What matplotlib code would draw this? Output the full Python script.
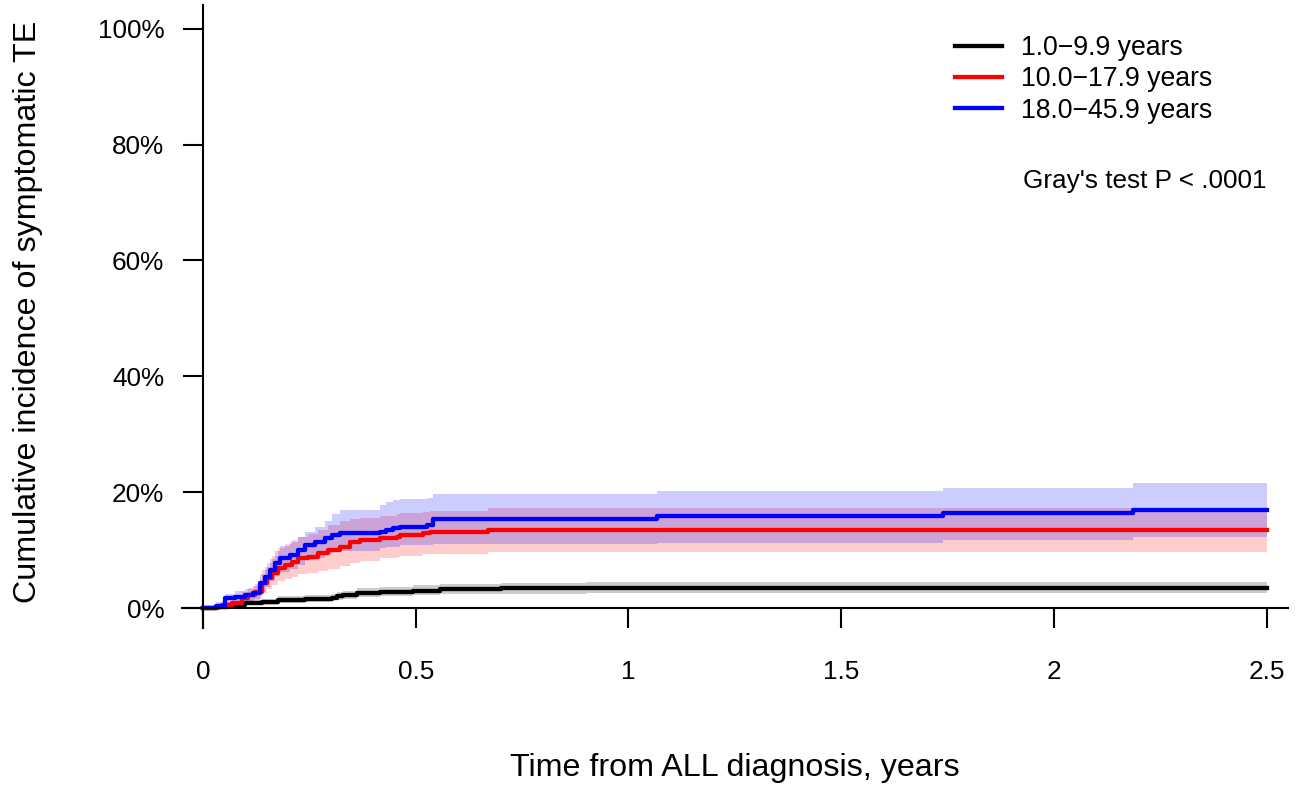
import matplotlib
matplotlib.use('Agg')
import matplotlib.pyplot as plt

plt.rcParams['font.family'] = ['Liberation Sans', 'DejaVu Sans']

# cumulative incidence (%) by age group
labels = ['1.0\u22129.9 years', '10.0\u221217.9 years', '18.0\u221245.9 years']
colors = ['black', 'red', 'blue']

t_young = [0, 0.03, 0.059, 0.099, 0.139, 0.176, 0.240, 0.303, 0.315, 0.329, 0.362,
           0.416, 0.494, 0.557, 0.627, 0.70, 0.90, 2.5]
ci_young = [0, 0.2, 0.5, 0.9, 1.0, 1.4, 1.6, 1.8, 2.0, 2.2, 2.6, 2.8, 3.0, 3.2, 3.3,
            3.4, 3.5, 3.5]
lo_young = [0, 0.05, 0.25, 0.55, 0.6, 0.9, 1.1, 1.3, 1.4, 1.6, 1.9, 2.1, 2.3, 2.4,
            2.5, 2.5, 2.6, 2.6]
hi_young = [0, 0.4, 0.8, 1.3, 1.5, 2.0, 2.2, 2.5, 2.7, 3.0, 3.4, 3.6, 3.9, 4.1, 4.2,
            4.4, 4.5, 4.5]

t_teen = [0, 0.035, 0.045, 0.068, 0.092, 0.106, 0.122, 0.139, 0.150, 0.162, 0.176,
          0.193, 0.209, 0.223, 0.247, 0.270, 0.294, 0.322, 0.345, 0.369, 0.416,
          0.456, 0.463, 0.517, 0.533, 0.67, 2.5]
ci_teen = [0, 0.2, 0.5, 0.9, 1.7, 2.2, 2.8, 4.3, 5.2, 6.0, 6.9, 7.4, 8.0, 8.6, 8.8,
           9.5, 10.0, 10.6, 11.4, 11.7, 12.1, 12.3, 12.6, 12.9, 13.1, 13.4, 13.4]
lo_teen = [0, 0, 0.1, 0.3, 0.8, 1.1, 1.5, 2.6, 3.3, 3.9, 4.6, 5.0, 5.4, 5.8, 6.0,
           6.4, 6.7, 7.2, 7.8, 8.1, 8.6, 8.8, 9.0, 9.3, 9.4, 9.6, 9.6]
hi_teen = [0, 0.6, 1.1, 1.7, 2.8, 3.4, 4.1, 6.6, 7.8, 9.0, 10.3, 11.0, 11.8, 12.3,
           12.8, 13.5, 14.3, 15.0, 15.4, 15.6, 15.8, 16.2, 16.4, 16.6, 16.8, 17.2, 17.2]

t_adult = [0, 0.03, 0.052, 0.075, 0.099, 0.117, 0.134, 0.146, 0.157, 0.169, 0.181,
           0.204, 0.223, 0.240, 0.263, 0.287, 0.303, 0.322, 0.416, 0.430, 0.446,
           0.463, 0.526, 0.541, 1.068, 1.740, 2.185, 2.5]
ci_adult = [0, 0.4, 1.7, 1.9, 2.2, 2.6, 4.3, 5.4, 6.6, 7.8, 8.6, 9.2, 10.0, 10.9,
            11.4, 12.1, 12.6, 12.9, 13.1, 13.5, 13.8, 14.0, 14.3, 15.3, 15.9, 16.4,
            17.0, 17.0]
lo_adult = [0, 0.1, 0.7, 0.9, 1.1, 1.4, 2.8, 3.7, 4.6, 5.6, 6.3, 6.8, 7.5, 8.3, 8.7,
            9.3, 9.6, 9.9, 10.3, 10.5, 10.6, 10.8, 10.9, 11.0, 11.3, 11.7, 12.2, 12.2]
hi_adult = [0, 1.0, 2.5, 2.9, 3.3, 3.8, 5.8, 7.0, 8.5, 9.8, 10.7, 11.4, 12.3, 13.2,
            14.0, 15.0, 16.2, 16.9, 17.8, 18.3, 18.6, 18.8, 19.0, 19.7, 20.2, 20.8,
            21.5, 21.5]

groups = [(t_young, ci_young, lo_young, hi_young),
          (t_teen, ci_teen, lo_teen, hi_teen),
          (t_adult, ci_adult, lo_adult, hi_adult)]

W, H = 1303, 787
fig = plt.figure(figsize=(W / 100, H / 100), dpi=100)
left, right, top, bottom = 181.7, 1288, 5, 628
ax = fig.add_axes([left / W, 1 - bottom / H, (right - left) / W, (bottom - top) / H])

for (t, ci, lo, hi), c in zip(groups, colors):
    ax.fill_between(t, lo, hi, step='post', color=c, alpha=0.2, lw=0)
for (t, ci, lo, hi), c, lab in zip(groups, colors, labels):
    ax.step(t, ci, where='post', color=c, lw=3.1, label=lab)

ax.set_xlim(-0.05, 2.55)
ax.set_ylim(-3.45, 104.1)

for s in ['top', 'right']:
    ax.spines[s].set_visible(False)
ax.spines['left'].set_position(('data', 0))
ax.spines['bottom'].set_position(('data', 0))
ax.spines['left'].set_linewidth(1.5)
ax.spines['bottom'].set_linewidth(1.5)

ax.set_xticks([0, 0.5, 1, 1.5, 2, 2.5])
ax.set_xticklabels(['0', '0.5', '1', '1.5', '2', '2.5'])
ax.set_yticks([0, 20, 40, 60, 80, 100])
ax.set_yticklabels(['0%', '20%', '40%', '60%', '80%', '100%'])
ax.tick_params(axis='both', direction='out', length=14.4, width=1.5, labelsize=18.8)
ax.tick_params(axis='x', pad=23)
ax.tick_params(axis='y', pad=13.5)

ax.set_xlabel('Time from ALL diagnosis, years', fontsize=23.2, va='center')
ax.xaxis.set_label_coords(0.5, (bottom - 768) / (bottom - top))
ax.set_ylabel('Cumulative incidence of symptomatic TE', fontsize=23.2, va='center')
ax.yaxis.set_label_coords((28 - left) / (right - left), (bottom - 312) / (bottom - top))

ax.legend(loc='upper left', bbox_to_anchor=(955 / W, 1 - 35 / H),
          bbox_transform=fig.transFigure, frameon=False, fontsize=19.2,
          handlelength=1.75, handletextpad=0.72, labelspacing=0.2, borderpad=0,
          borderaxespad=0)

fig.text(1023 / W, 1 - 181 / H, "Gray's test P < .0001", fontsize=18.8,
         ha='left', va='center')

fig.savefig('out.png', dpi=100)
